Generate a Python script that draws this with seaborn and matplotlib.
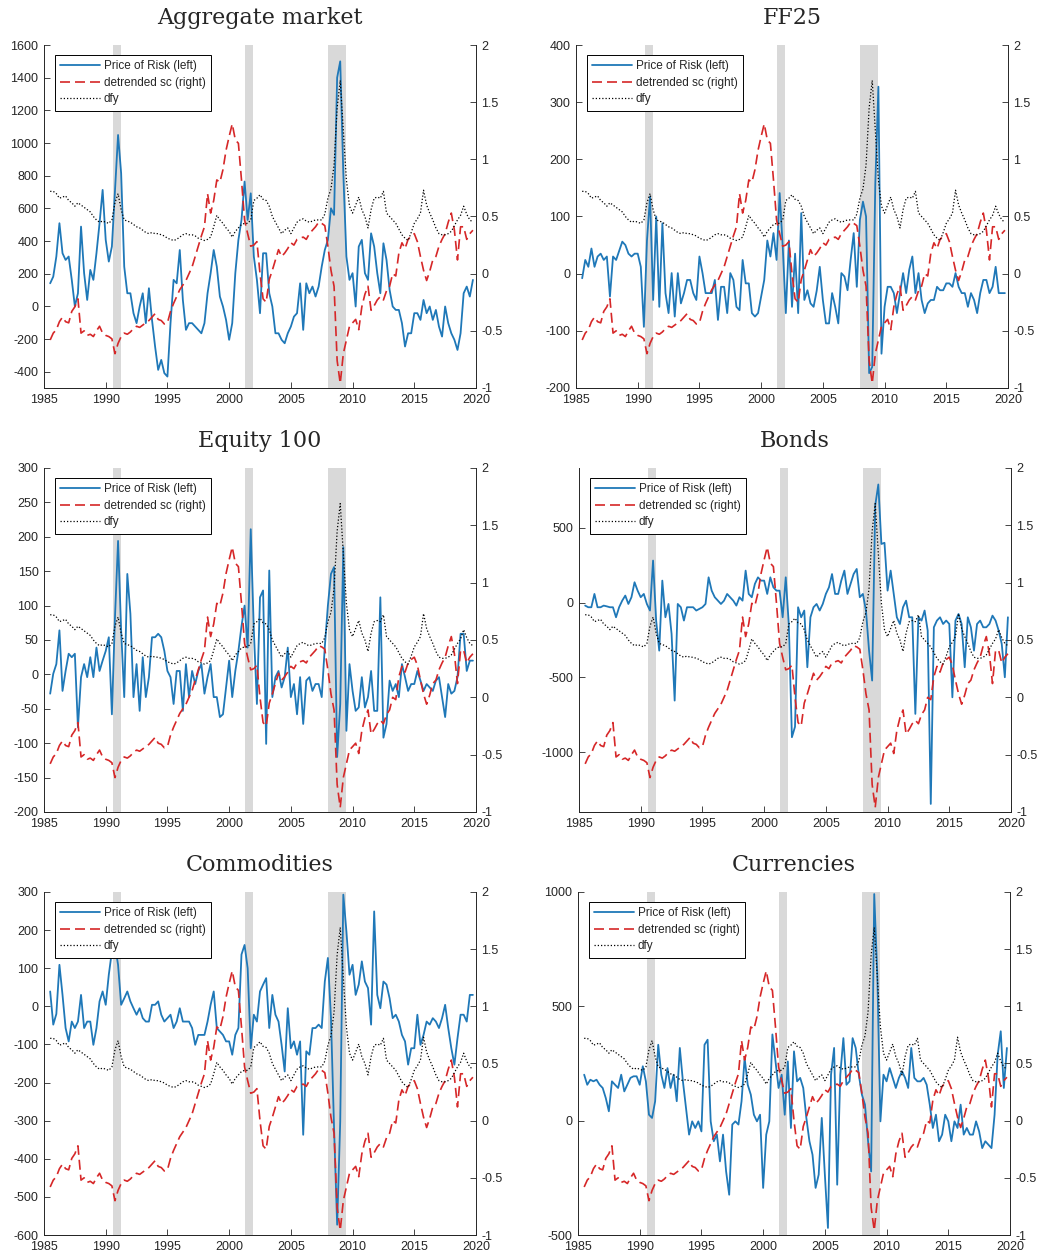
import numpy as np
import pandas as pd
import matplotlib
matplotlib.use("Agg")
import matplotlib.pyplot as plt
import seaborn as sns

# quarterly observations, 1985Q3 .. 2019Q4
dates = pd.date_range("1985-07-01", periods=138, freq="QS")
years = np.asarray(dates.year + (dates.month - 1) / 12.0)

# detrended sc (right axis), same for every panel
sc = [-0.58, -0.52,
      -0.49, -0.42, -0.38, -0.42,  -0.43, -0.33, -0.29, -0.22,  -0.52, -0.50, -0.54, -0.53,
      -0.55, -0.50, -0.46, -0.52,  -0.54, -0.55, -0.57, -0.70,  -0.61, -0.55, -0.52, -0.53,
      -0.51, -0.48, -0.46, -0.47,  -0.45, -0.43, -0.41, -0.38,  -0.35, -0.40, -0.41, -0.44,
      -0.43, -0.33, -0.26, -0.20,  -0.14, -0.10, -0.06, 0.00,   0.06, 0.15, 0.24, 0.33,
      0.41, 0.70, 0.53, 0.64,      0.82, 0.80, 0.91, 1.08,      1.20, 1.31, 1.17, 1.14,
      0.82, 0.47, 0.35, 0.24,      0.25, 0.28, 0.00, -0.22,     -0.25, -0.05, 0.03, 0.12,
      0.21, 0.15, 0.18, 0.22,      0.27, 0.25, 0.30, 0.31,      0.32, 0.30, 0.35, 0.38,
      0.41, 0.45, 0.44, 0.42,      0.24, 0.03, -0.11, -0.76,    -0.96, -0.70, -0.58, -0.46,
      -0.43, -0.40, -0.49, -0.29,  -0.18, -0.11, -0.32, -0.28,  -0.23, -0.20, -0.23, -0.15,
      -0.11, 0.00, -0.02, 0.18,    0.27, 0.22, 0.30, 0.33,      0.35, 0.28, 0.15, 0.03,
      -0.06, 0.02, 0.12, 0.15,     0.24, 0.30, 0.35, 0.45,      0.53, 0.38, 0.12, 0.41,
      0.41, 0.30, 0.35, 0.38]

# dfy (right axis), same for every panel
dfy = [0.72, 0.72,
       0.70, 0.66, 0.67, 0.68,  0.64, 0.62, 0.59, 0.62,  0.60, 0.58, 0.56, 0.54,
       0.50, 0.47, 0.45, 0.46,  0.45, 0.44, 0.47, 0.62,  0.70, 0.56, 0.47, 0.46,
       0.45, 0.43, 0.41, 0.40,  0.38, 0.36, 0.35, 0.36,  0.35, 0.35, 0.34, 0.33,
       0.31, 0.30, 0.29, 0.30,  0.32, 0.34, 0.35, 0.34,  0.34, 0.33, 0.31, 0.30,
       0.29, 0.30, 0.32, 0.41,  0.51, 0.47, 0.44, 0.40,  0.37, 0.32, 0.37, 0.40,
       0.43, 0.44, 0.44, 0.47,  0.64, 0.66, 0.69, 0.65,  0.64, 0.59, 0.50, 0.45,
       0.40, 0.35, 0.38, 0.40,  0.35, 0.40, 0.45, 0.47,  0.48, 0.46, 0.45, 0.46,
       0.47, 0.47, 0.47, 0.52,  0.66, 0.74, 0.95, 1.45,  1.69, 1.25, 0.82, 0.59,
       0.53, 0.60, 0.67, 0.56,  0.50, 0.40, 0.56, 0.66,  0.67, 0.66, 0.72, 0.53,
       0.50, 0.47, 0.44, 0.39,  0.34, 0.31, 0.29, 0.36,  0.44, 0.48, 0.53, 0.73,
       0.60, 0.53, 0.47, 0.40,  0.35, 0.34, 0.34, 0.35,  0.37, 0.42, 0.47, 0.51,
       0.59, 0.52, 0.47, 0.45]

# price of risk (left axis), one series per asset class
agg = [141, 182,
       305, 509, 325, 284,  305, 162, 0, 80,  488, 203, 39, 223,
       162, 325, 509, 713,  407, 274, 366, 713,  1049, 815, 243, 80,
       80, -42, -103, -1,  80, -103, 111, -83,  -246, -389, -328, -409,
       -430, -103, 162, 141,  345, 39, -144, -103,  -103, -124, -144, -165,
       -103, 80, 203, 345,  243, 60, -1, -83,  -205, -103, 203, 407,
       529, 764, 529, 692,  305, 162, -42, 325,  325, 80, -1, -165,
       -165, -205, -226, -165,  -124, -63, -42, 141,  -144, 141, 80, 121,
       60, 121, 243, 345,  407, 600, 560, 1400,  1500, 815, 305, 162,
       203, -1, 366, 407,  203, 162, 447, 366,  203, 80, 386, 284,
       101, -1, -22, -22,  -103, -246, -165, -165,  -42, -42, -83, 39,
       -42, -1, -83, -22,  -124, -185, -1, -103,  -165, -205, -267, -165,
       80, 121, 60, 162]

ff25 = [-8, 24,
        12, 44, 12, 30,  35, 24, 30, -40,  30, 24, 40, 56,
        50, 35, 30, 35,  35, 12, -93, 58,  135, -46, 100, -58,
        88, -34, -69, 1,  -75, 1, -52, -34,  -11, -11, -34, -46,
        30, 1, -34, -34,  -34, -11, -81, -23,  -23, -69, 1, -11,
        -58, -64, 24, -17,  -17, -69, -75, -69,  -40, -11, 58, 30,
        71, 24, 141, 47,  -69, 58, -58, 35,  -69, 106, -46, -29,
        -52, -58, -30, 12,  -46, -87, -87, -34,  -58, -87, 1, -5,
        -29, 24, 71, -23,  94, 126, 100, -174,  -163, 158, 327, -140,
        -58, -23, -23, -34,  -69, -34, 1, -34,  7, 30, -34, 1,
        -46, -69, -52, -46,  -46, -23, -29, -29,  -17, -17, -23, 1,
        -23, -34, -34, -58,  -34, -46, -69, -34,  -11, -11, -34, -23,
        12, -34, -34, -34]

eq100 = [-28, 1,
         15, 64, -24, 5,  30, 25, 30, -77,  -4, 15, -4, 25,
         -4, 39, 5, 20,  34, 54, -58, 83,  194, 64, -33, 146,
         88, -33, 15, -53,  25, -33, -4, 54,  54, 59, 54, 34,
         5, -4, -43, 5,  5, -53, 15, -33,  5, -14, 5, 15,
         -28, -4, 15, -33,  -33, -62, -58, -19,  20, -33, 5, 34,
         70, 100, 39, 211,  64, -43, 112, 122,  -101, 151, -33, -4,
         5, -19, -4, 39,  -33, -14, -58, -4,  -72, -9, -4, -24,
         -14, -14, -33, 40,  100, 146, 156, -120,  -43, 185, -82, 15,
         -24, -53, -48, -4,  -48, -33, 5, -53,  -53, 112, -92, -72,
         -9, -24, -14, -33,  15, -4, -24, -14,  -14, 5, -9, -24,
         -14, -19, -24, -9,  -4, -33, -62, -14,  -28, -24, -4, 59,
         59, 5, 20, 20]

bonds = [-20, -31,
         -31, 58, -31, -31,  -20, -25, -31, -31,  -98, -31, 13, 47,
         -9, 36, 136, 80,  36, 58, -9, -53,  281, -120, -321, 147,
         -98, -9, -209, -655,  -9, -31, -120, -31,  -31, -31, -53, -42,
         -31, -9, 169, 80,  36, 13, -9, 13,  58, 36, 13, -20,
         36, 13, 214, 58,  36, 125, 169, 147,  147, 58, 169, 102,
         80, 80, -98, 169,  -150, -900, -830, -31,  -98, -53, -432, -98,
         -31, -9, -53, -9,  58, 102, 191, 58,  58, 147, 214, 58,
         125, 191, 225, 36,  58, -53, -321, -521,  650, 790, 392, 400,
         80, 214, 58, -98,  -143, -31, 13, -98,  -98, -744, -98, -120,
         -53, -187, -1346, -165,  -120, -98, -143, -120,  -143, -633, -120, -76,
         -143, -432, -98, -165,  -321, -143, -120, -165,  -165, -143, -87, -120,
         -187, -276, -499, -98]

comm = [39, -48,
        -20, 109, 30, -57,  -92, -40, -57, -40,  30, -57, -40, -40,
        -101, -57, 13, 39,  4, 83, 144, 161,  109, 4, 21, 39,
        13, -5, -22, -5,  -31, -40, -40, 4,  4, 13, -22, -40,
        -31, -22, -57, -40,  -5, -40, -40, -40,  -57, -101, -75, -75,
        -75, -40, 4, 39,  -57, -66, -75, -92,  -92, -127, -75, -57,
        136, 161, 100, -110,  -22, -40, 39, 57,  74, -57, 30, -22,
        -40, -101, -171, -5,  -110, -92, -127, -92,  -337, -118, -127, -57,
        -57, -48, -57, 65,  127, -31, -320, -573,  -302, 293, 197, 83,
        109, 30, 57, 118,  65, 48, -48, 249,  30, -5, 65, 57,
        21, -31, -22, -40,  -75, -92, -153, -110,  -110, -22, -101, -75,
        -40, -48, -31, -40,  -57, -31, 4, -57,  -110, -153, -84, -22,
        -22, -40, 30, 30]

fx = [201, 157,
      179, 172, 179, 157,  143, 99, 41, 172,  157, 143, 201, 128,
      157, 187, 194, 194,  157, 238, 172, 26,  12, 85, 332, 201,
      143, 230, 143, 201,  85, 318, 172, 55,  -61, -3, -32, -3,
      -47, 332, 354, -3,  -90, -61, -178, -61,  -222, -324, -17, -3,
      -17, 85, 274, 157,  114, 26, -3, 26,  -294, -61, -3, 377,
      259, 143, 201, 26,  259, -32, 303, 172,  187, 143, 12, -90,
      -149, -294, -236, 12,  -236, -469, 201, 318,  -280, 201, 361, 157,
      172, 361, 318, 201,  114, 70, -90, -222,  991, 638, -3, 201,
      172, 230, 187, 143,  187, 216, 187, 143,  318, 187, 172, 172,
      187, 157, 70, -32,  26, -90, -61, 26,  -3, -90, -3, -32,
      70, -61, -32, -61,  -61, -3, -47, -120,  -90, -105, -120, 26,
      288, 391, 143, 318]

# NBER recessions
recessions = [(1990.55, 1991.2), (2001.25, 2001.9), (2008.0, 2009.45)]

x_ticks = [1985, 1990, 1995, 2000, 2005, 2010, 2015, 2020]
right_ticks = [-1, -0.5, 0, 0.5, 1, 1.5, 2]
agg_ticks = [-400, -200, 0, 200, 400, 600, 800, 1000, 1200, 1400, 1600]
ff25_ticks = [-200, -100, 0, 100, 200, 300, 400]
eq_ticks = [-200, -150, -100, -50, 0, 50, 100, 150, 200, 250, 300]
bond_ticks = [-1000, -500, 0, 500]
comm_ticks = [-600, -500, -400, -300, -200, -100, 0, 100, 200, 300]
fx_ticks = [-500, 0, 500, 1000]

BLUE = "#1f78b8"
RED = "#d62728"
INK = "#262626"

sns.set_style("ticks")
plt.rcParams["font.family"] = ["Liberation Sans", "DejaVu Sans"]
plt.rcParams["axes.unicode_minus"] = False

W, H = 1038, 1257
fig = plt.figure(figsize=(W / 100, H / 100), dpi=100)

# title, series, left limits, left ticks, pixel box (x, y, w, h)
panels = [
    ("Aggregate market", agg, (-500, 1600), agg_ticks, (44, 45, 432, 343)),
    ("FF25", ff25, (-200, 400), ff25_ticks, (576, 45, 432, 343)),
    ("Equity 100", eq100, (-200, 300), eq_ticks, (44, 468, 432, 344)),
    ("Bonds", bonds, (-1400, 900), bond_ticks, (579, 468, 432, 344)),
    ("Commodities", comm, (-600, 300), comm_ticks, (44, 892, 432, 343)),
    ("Currencies", fx, (-500, 1000), fx_ticks, (578, 892, 432, 343)),
]


def style_axis(a):
    a.tick_params(direction="in", length=4, width=0.6, colors=INK,
                  labelsize=9, pad=4)
    for s in a.spines.values():
        s.set_linewidth(0.7)
        s.set_color(INK)
    a.spines["top"].set_visible(False)


for title, price, ylim, yticks, (px, py, pw, ph) in panels:
    ax = fig.add_axes([px / W, 1 - (py + ph) / H, pw / W, ph / H])
    for a, b in recessions:
        ax.axvspan(a, b, color="#d9d9d9", lw=0, zorder=0)
    sns.lineplot(x=years, y=price, ax=ax, color=BLUE, linewidth=1.3,
                 estimator=None, legend=False)
    ax.set_xlim(1985, 2020)
    ax.set_ylim(*ylim)
    ax.set_xticks(x_ticks)
    ax.set_yticks(yticks)
    ax.set_xlabel("")
    ax.set_ylabel("")
    style_axis(ax)
    ax.spines["right"].set_visible(False)
    ax.tick_params(right=False, top=False)
    ax.set_title(title, family="DejaVu Serif", fontsize=16, pad=15)

    ax2 = ax.twinx()
    sns.lineplot(x=years, y=sc, ax=ax2, color=RED, linewidth=1.2,
                 estimator=None, legend=False)
    ax2.lines[-1].set_dashes((6, 3))
    sns.lineplot(x=years, y=dfy, ax=ax2, color="black", linewidth=0.9,
                 estimator=None, legend=False)
    ax2.lines[-1].set_dashes((1, 1.6))
    ax2.set_ylim(-1, 2)
    ax2.set_yticks(right_ticks)
    ax2.set_yticklabels([f"{t:g}" for t in right_ticks])
    ax2.set_ylabel("")
    style_axis(ax2)
    ax2.spines["left"].set_visible(False)
    ax2.tick_params(left=False, bottom=False, labelbottom=False)

    handles = [ax.lines[0], ax2.lines[0], ax2.lines[1]]
    labels = ["Price of Risk (left)", "detrended sc (right)", "dfy"]
    leg = ax2.legend(handles, labels, loc="upper left",
                     bbox_to_anchor=(11 / pw, 1 - 10 / ph), borderaxespad=0,
                     fontsize=8.5, frameon=True, fancybox=False,
                     edgecolor="black", framealpha=1, handlelength=3.4,
                     handletextpad=0.3, labelspacing=0.38, borderpad=0.45)
    leg.get_frame().set_linewidth(0.7)

fig.savefig("out.png", dpi=100)
